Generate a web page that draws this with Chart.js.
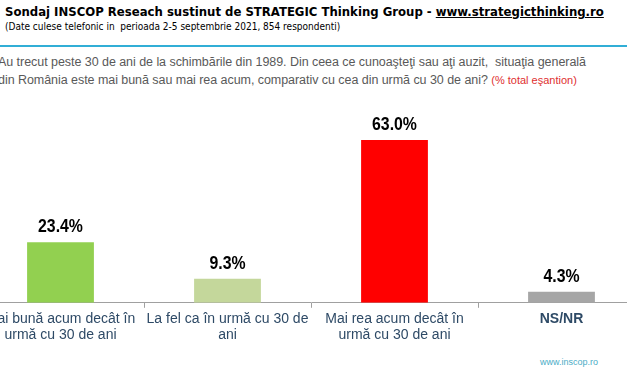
<!DOCTYPE html>
<html>
<head>
<meta charset="utf-8">
<script src="https://cdn.jsdelivr.net/npm/chart.js@4"></script>
<style>
  html, body { margin: 0; padding: 0; background: #fff; }
  body { width: 627px; height: 376px; position: relative; overflow: hidden; }
  #titlu { position: absolute; left: 5px; top: 4px; font: bold 13px "DejaVu Sans Condensed", "DejaVu Sans", sans-serif; color: #000; white-space: nowrap; }
  #titlu u { text-decoration: underline; }
  #sub { position: absolute; left: 5px; top: 21px; font: 10px "DejaVu Sans Condensed", "DejaVu Sans", sans-serif; color: #000; white-space: nowrap; }
  #linie { position: absolute; left: 0; top: 45px; width: 627px; height: 2px; background: #31aed6; }
  #intrebare { position: absolute; left: -2px; top: 53px; font: 12.5px "Liberation Sans", Arial, sans-serif; color: #595959; line-height: 18px; white-space: nowrap; letter-spacing: -0.05px; }
  #intrebare span { color: #e03030; font-size: 11px; letter-spacing: 0; }
  #sursa { position: absolute; left: 540px; top: 357px; font: 9px "Liberation Sans", Arial, sans-serif; color: #4bacc6; }
  #grafic { position: absolute; left: -23px; top: 100px; width: 668px; height: 276px; }
</style>
</head>
<body>
<div id="titlu">Sondaj INSCOP Reseach sustinut de STRATEGIC Thinking Group - <u>www.strategicthinking.ro</u></div>
<div id="sub">(Date culese telefonic in&nbsp; perioada 2-5 septembrie 2021, 854 respondenti)</div>
<div id="linie"></div>
<div id="intrebare">Au trecut peste 30 de ani de la schimbările din 1989. Din ceea ce cunoaşteţi sau aţi auzit,&nbsp; situaţia generală<br>din România este mai bună sau mai rea acum, comparativ cu cea din urmă cu 30 de ani? <span>(% total eşantion)</span></div>
<div id="sursa">www.inscop.ro</div>
<div id="grafic"><canvas id="cnv"></canvas></div>

<script>
// categorii si procente
const categorii = [
    ['Mai bună acum decât în', 'urmă cu 30 de ani'],
    ['La fel ca în urmă cu 30 de', 'ani'],
    ['Mai rea acum decât în', 'urmă cu 30 de ani'],
    'NS/NR'
]
const procente = [23.4, 9.3, 63.0, 4.3]
const culori = ['#92d050', '#c4d79b', '#ff0000', '#a6a6a6']

// eticheta cu valoarea deasupra fiecarei bare (font ingustat ca Arial Narrow)
const eticheteValori = {
    id: 'eticheteValori',
    afterDatasetsDraw(chart) {
        const ctx = chart.ctx
        const meta = chart.getDatasetMeta(0)
        ctx.save()
        ctx.fillStyle = '#000'
        ctx.textAlign = 'center'
        ctx.textBaseline = 'bottom'
        ctx.font = 'bold 18px "Liberation Sans", Arial, sans-serif'
        meta.data.forEach((bar, i) => {
            ctx.save()
            ctx.translate(bar.x, bar.y - 6)
            ctx.scale(0.88, 1)
            ctx.fillText(procente[i].toFixed(1) + '%', 0, 0)
            ctx.restore()
        })
        ctx.restore()
    }
}

const ctx = document.getElementById('cnv').getContext('2d')
let chart = new Chart(ctx, {
    type: 'bar',
    data: {
        labels: categorii,
        datasets: [{
            data: procente,
            backgroundColor: culori,
            barPercentage: 0.8,
            categoryPercentage: 0.5
        }]
    },
    options: {
        responsive: true,
        maintainAspectRatio: false,
        animation: false,
        layout: { padding: { top: 22, bottom: 30, left: 0, right: 0 } },
        plugins: { legend: { display: false }, tooltip: { enabled: false } },
        scales: {
            x: {
                grid: { display: true, drawOnChartArea: false, tickLength: 5, color: '#a0a0a0' },
                border: { color: '#a0a0a0', width: 1 },
                ticks: {
                    color: '#2e4a66',
                    padding: 3,
                    maxRotation: 0,
                    autoSkip: false,
                    font: c => ({ family: '"Liberation Sans", Arial, sans-serif', size: 14, weight: c.index === 3 ? 'bold' : 'normal', lineHeight: 1.15 })
                }
            },
            y: { display: false, min: 0, max: 70 }
        }
    },
    plugins: [eticheteValori]
})
</script>
</body>
</html>
